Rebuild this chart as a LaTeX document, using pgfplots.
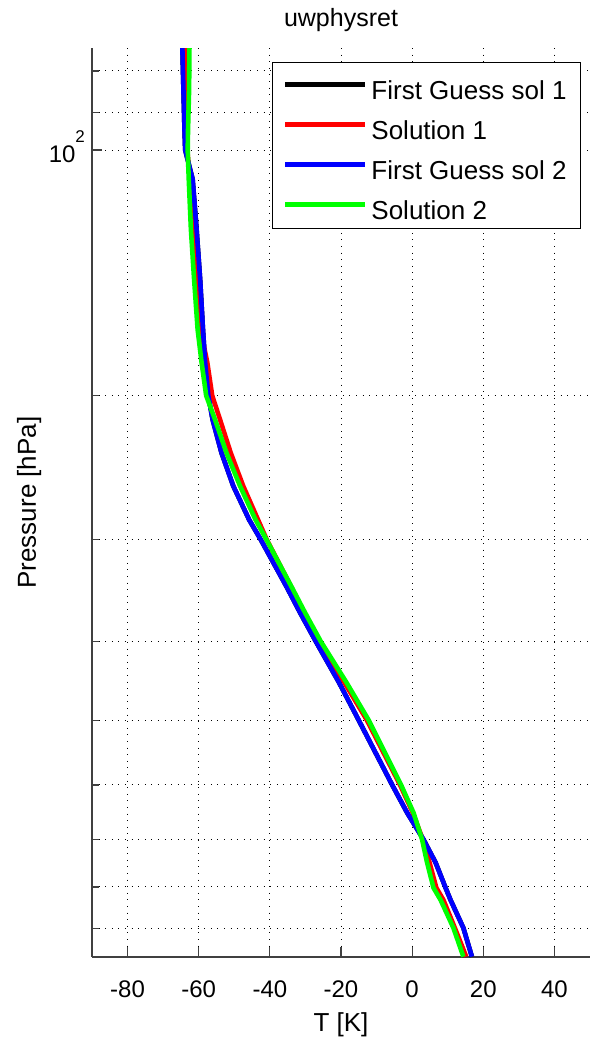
\documentclass[border=0pt]{standalone}
\usepackage{fontspec}
\setmainfont{Liberation Sans}
\usepackage{pgfplots}
\pgfplotsset{compat=1.18}

\begin{document}
\begin{tikzpicture}
\begin{axis}[
  name=ax,
  scale only axis,
  width=249pt, height=454.5pt,
  xmin=-90, xmax=50,
  ymode=log, ymin=75, ymax=975,
  y dir=reverse,
  axis x line*=bottom, axis y line*=left,
  axis line style={black!75, line width=0.7pt},
  tick align=inside,
  tick style={black!75, line width=0.6pt},
  major tick length=5pt, minor tick length=3.5pt,
  xtick={-80,-60,-40,-20,0,20,40},
  xticklabels={-80,-60,-40,-20,0,20,40},
  ytick={100},
  yticklabels={10\raisebox{10pt}{\fontsize{8.5}{9}\selectfont 2}},
  minor ytick={80,90,200,300,400,500,600,700,800,900},
  xmajorgrids, ymajorgrids, yminorgrids,
  grid style={black, line width=0.5pt, dash pattern=on 0.5pt off 2.8pt},
  minor grid style={black, line width=0.5pt, dash pattern=on 0.5pt off 2.8pt},
  tick label style={font=\fontsize{12}{14}\selectfont},
  xticklabel style={anchor=base, yshift=-20pt},
  yticklabel style={anchor=base east, yshift=-6.2pt},
  xlabel={T [K]},
  ylabel={Pressure [hPa]},
  label style={font=\fontsize{13}{15}\selectfont},
  xlabel style={at={(axis description cs:0.5,0)}, anchor=base, yshift=-37pt},
  ylabel style={at={([xshift=-28pt]axis description cs:0,0.5)}, anchor=base},
  title={uwphysret},
  every axis title/.style={font=\fontsize{12.5}{15}\selectfont, at={(axis description cs:0.5,1)}, anchor=base, yshift=10.7pt},
  legend style={at={(axis description cs:1,1)}, anchor=north east, xshift=-4.5pt, yshift=-6.85pt,
    draw=black, line width=0.5pt, fill=white,
    inner xsep=5pt, inner ysep=1.5pt,
    font=\fontsize{13}{15}\selectfont,
    cells={anchor=base west},
    nodes={inner xsep=2pt, inner ysep=0pt, text height=17.3pt, text depth=2.7pt}},
  legend image code/.code={\draw[#1, line width=2.3pt] (0pt,7.75pt) -- (40pt,7.75pt);},
  every axis plot/.append style={line width=2.3pt, line join=round},
]
\addplot[black] coordinates {
(-64.6,74.8) (-64.3,84.2) (-64.0,94.3) (-63.8,100) (-62.8,104) (-61.7,108.6) (-60.6,125) (-59.6,144) (-58.8,166) (-58.2,182) (-57.3,200) (-56.1,214) (-53.6,235) (-50.3,258) (-45.8,284) (-42.6,300) (-35.3,343) (-31.5,369) (-27.1,400) (-20.6,449) (-15.1,499) (-5.6,600) (-1.4,649) (3.2,700) (6.6,747) (9.4,802) (10.8,830) (14.4,898) (16.8,974)
};
\addlegendentry{First Guess sol 1}
\addplot[red] coordinates {
(-63.4,74.8) (-63.4,84.2) (-63.3,94.3) (-63.2,100) (-62.5,108.6) (-61.8,125) (-60.7,144) (-59.5,166) (-57.6,182) (-56.2,200) (-54.0,214) (-51.0,235) (-47.5,258) (-43.3,284) (-40.9,300) (-34.0,343) (-30.4,369) (-26.2,400) (-19.1,449) (-12.8,499) (-3.4,600) (0.2,649) (3.0,700) (4.9,747) (6.8,802) (8.8,830) (12.0,898) (15.2,974)
};
\addlegendentry{Solution 1}
\addplot[blue] coordinates {
(-64.6,74.8) (-64.3,84.2) (-64.0,94.3) (-63.8,100) (-62.8,104) (-61.7,108.6) (-60.6,125) (-59.6,144) (-58.8,166) (-58.2,182) (-57.3,200) (-56.1,214) (-53.6,235) (-50.3,258) (-45.8,284) (-42.6,300) (-35.3,343) (-31.5,369) (-27.1,400) (-20.6,449) (-15.1,499) (-5.6,600) (-1.4,649) (3.2,700) (6.6,747) (9.4,802) (10.8,830) (14.4,898) (16.8,974)
};
\addlegendentry{First Guess sol 2}
\addplot[green] coordinates {
(-62.6,74.8) (-62.7,84.2) (-63.0,94.3) (-63.1,100) (-62.8,108.6) (-62.2,125) (-61.3,144) (-60.3,166) (-59.2,182) (-57.9,200) (-55.4,214) (-52.2,235) (-48.4,258) (-44.0,284) (-41.0,300) (-33.9,343) (-30.1,369) (-25.7,400) (-18.5,449) (-12.3,499) (-3.1,600) (0.4,649) (2.8,700) (4.2,747) (6.0,802) (8.0,830) (11.6,898) (14.4,974)
};
\addlegendentry{Solution 2}
\end{axis}
\pgfresetboundingbox
\path[use as bounding box] ([xshift=-46pt,yshift=-41.5pt]ax.south west) rectangle ([yshift=24pt]ax.north east);
\end{tikzpicture}
\end{document}
